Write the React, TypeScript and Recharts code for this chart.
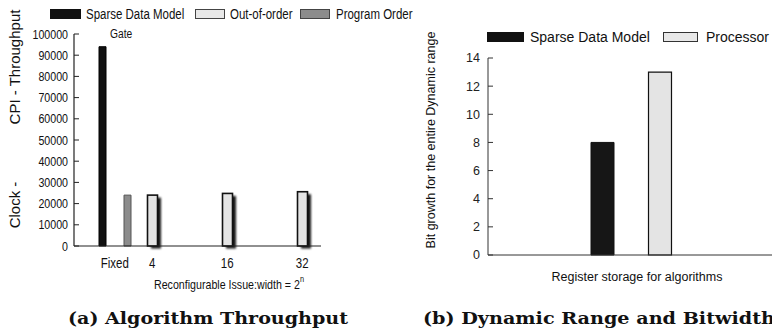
import { BarChart, Bar, XAxis, YAxis } from 'recharts'

// (a) throughput per issue width, blanks keep the uneven spacing of the original
const issueCategories = ['Fixed', '4', '', '16', '', '32']
const sparseThroughput = [94000, null, null, null, null, null]
const outOfOrderThroughput = [null, 24000, null, 24800, null, 25600]
const programOrderThroughput = [24000, null, null, null, null, null]
const throughputTicks = [0, 10000, 20000, 30000, 40000, 50000, 60000, 70000, 80000, 90000, 100000]

// (b) bit growth
const rangeCategories = ['Register storage for algorithms']
const sparseBitGrowth = [8]
const processorBitGrowth = [13]
const bitTicks = [0, 2, 4, 6, 8, 10, 12, 14]

const SANS = '"Liberation Sans", Arial, sans-serif'
const SERIF = '"DejaVu Serif", "Liberation Serif", serif'
const NARROW_SCALE = 0.82

const throughputData = issueCategories.map((name, i) => ({
  name,
  sparse: sparseThroughput[i],
  outOfOrder: outOfOrderThroughput[i],
  programOrder: programOrderThroughput[i]
}))

const rangeData = rangeCategories.map((name, i) => ({
  name,
  sparse: sparseBitGrowth[i],
  processor: processorBitGrowth[i]
}))

// no narrow font installed, so squeeze Liberation Sans horizontally
const NarrowText = ({ x, y, size, anchor = 'start', children }: any) => (
  <text
    transform={`translate(${x},${y}) scale(${NARROW_SCALE},1)`}
    fontFamily={SANS}
    fontSize={size}
    textAnchor={anchor}
    fill="#111"
  >
    {children}
  </text>
)

const NarrowYTick = ({ x, y, payload }: any) => (
  <NarrowText x={x} y={y + 4.5} size={13} anchor="end">{payload.value}</NarrowText>
)

const NarrowXTick = ({ x, y, payload }: any) => (
  <NarrowText x={x} y={y + 10} size={14} anchor="middle">{payload.value}</NarrowText>
)

const ShadowBar = (props: any) => {
  const { x, y, width, height, index } = props
  if (!height || height <= 0) return null
  const id = `shadow-${index}`
  return (
    <g>
      <defs>
        <filter id={id} x="-60%" y="-20%" width="220%" height="140%">
          <feGaussianBlur stdDeviation="1.3" />
        </filter>
      </defs>
      <rect x={x + 3.5} y={y + 2.5} width={width} height={height} fill="#000" opacity={0.9} filter={`url(#${id})`} />
      <rect x={x} y={y} width={width} height={height} fill="#e4e4e4" stroke="#111" strokeWidth={1.6} />
    </g>
  )
}

const Overlay = () => (
  <svg width={772} height={332} style={{ position: 'absolute', left: 0, top: 0, pointerEvents: 'none' }}>
    {/* legend (a) */}
    <rect x={50} y={9} width={31} height={10} fill="#111" />
    <NarrowText x={86} y={18.5} size={14}>Sparse Data Model</NarrowText>
    <rect x={195.5} y={9.5} width={29} height={9} fill="#e8e8e8" stroke="#444" />
    <NarrowText x={230} y={18.5} size={14}>Out-of-order</NarrowText>
    <rect x={300.5} y={9.5} width={29} height={9} fill="#8c8c8c" stroke="#444" />
    <NarrowText x={336} y={18.5} size={14}>Program Order</NarrowText>
    <NarrowText x={110} y={38} size={12.5}>Gate</NarrowText>
    <text transform={`translate(154,289) scale(${NARROW_SCALE},1)`} fontFamily={SANS} fontSize={13} fill="#111">
      Reconfigurable Issue:width = 2
      <tspan dy={-7} fontSize={9}>n</tspan>
    </text>
    <g fontFamily={SANS} fontSize={15} fill="#111">
      <text transform="translate(20,67) rotate(-90)" textAnchor="middle">CPI - Throughput</text>
      <text transform="translate(20,205) rotate(-90)" textAnchor="middle">Clock -</text>
    </g>

    {/* legend (b) */}
    <g fontFamily={SANS} fontSize={14} fill="#111">
      <rect x={487} y={32} width={37} height={10} fill="#111" />
      <text x={530} y={42}>Sparse Data Model</text>
      <rect x={663.5} y={32.5} width={34} height={9} fill="#e8e8e8" stroke="#333" />
      <text x={706} y={42}>Processor</text>
      <text transform="translate(435,140) rotate(-90)" textAnchor="middle" fontSize={12.5}>
        Bit growth for the entire Dynamic range
      </text>
      <text x={637} y={281} textAnchor="middle" fontSize={12.5}>Register storage for algorithms</text>
    </g>

    {/* captions */}
    <g fontFamily={SERIF} fontWeight="bold" fontSize={16.5} fill="#111">
      <text x={68} y={324} textLength={280} lengthAdjust="spacingAndGlyphs">(a) Algorithm Throughput</text>
      <text x={423} y={324} textLength={352} lengthAdjust="spacingAndGlyphs">(b) Dynamic Range and Bitwidth</text>
    </g>
  </svg>
)

export default function App() {
  return (
    <div style={{ position: 'absolute', left: 0, top: 0, width: 772, height: 332, overflow: 'hidden', background: '#fff' }}>
      <div style={{ position: 'absolute', left: 0, top: 0 }}>
        <BarChart
          width={340}
          height={300}
          data={throughputData}
          margin={{ top: 34, right: 19, bottom: 0, left: 0 }}
          barGap={4}
        >
          <XAxis
            dataKey="name"
            padding={{ left: 22, right: 0 }}
            height={54}
            axisLine={{ stroke: '#222', strokeWidth: 1.2 }}
            tickLine={false}
            tickSize={0}
            tickMargin={12}
            interval={0}
            tick={<NarrowXTick />}
          />
          <YAxis
            width={74}
            domain={[0, 100000]}
            ticks={throughputTicks}
            interval={0}
            axisLine={{ stroke: '#222', strokeWidth: 1.2 }}
            tickLine={{ stroke: '#222' }}
            tickSize={-5}
            tickMargin={11}
            tick={<NarrowYTick />}
          />
          <Bar dataKey="sparse" barSize={7} fill="#111" stroke="#000" isAnimationActive={false} />
          <Bar dataKey="outOfOrder" barSize={10} shape={<ShadowBar />} isAnimationActive={false} />
          <Bar dataKey="programOrder" barSize={7} fill="#8c8c8c" stroke="#555" isAnimationActive={false} />
        </BarChart>
      </div>

      <div style={{ position: 'absolute', left: 400, top: 0 }}>
        <BarChart
          width={380}
          height={300}
          data={rangeData}
          margin={{ top: 58, right: 6, bottom: 0, left: 0 }}
          barGap={34.5}
        >
          <XAxis
            dataKey="name"
            height={45}
            axisLine={{ stroke: '#333' }}
            tickLine={false}
            tick={false}
          />
          <YAxis
            width={88}
            domain={[0, 14]}
            ticks={bitTicks}
            interval={0}
            axisLine={{ stroke: '#333' }}
            tickLine={{ stroke: '#333' }}
            tickSize={-5}
            tickMargin={13}
            tick={{ fontFamily: SANS, fontSize: 12.5, fill: '#222' }}
          />
          <Bar dataKey="sparse" barSize={23} fill="#161616" stroke="#111" isAnimationActive={false} />
          <Bar dataKey="processor" barSize={23} fill="#e4e4e4" stroke="#111" strokeWidth={1.2} isAnimationActive={false} />
        </BarChart>
      </div>

      <Overlay />
    </div>
  )
}
